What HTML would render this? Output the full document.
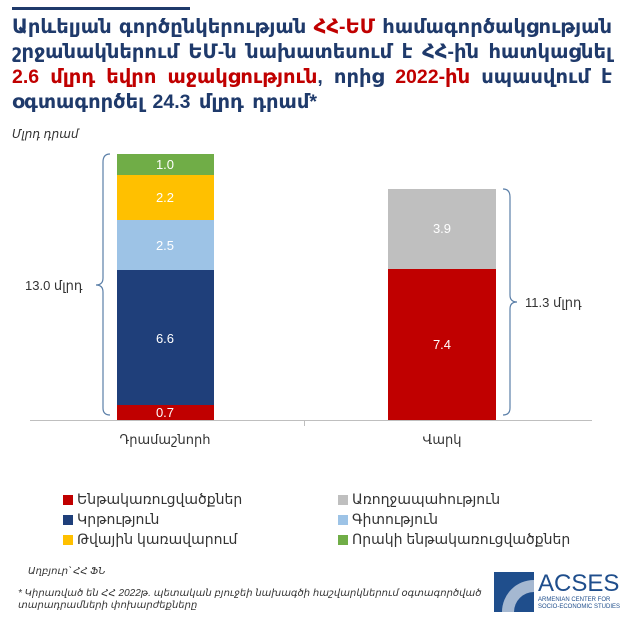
<!DOCTYPE html>
<html><head><meta charset="utf-8"><style>
body{margin:0;width:624px;height:624px;background:#fff;position:relative;overflow:hidden;font-family:"Liberation Sans","DejaVu Sans",sans-serif}
.t{position:absolute;left:12px;width:600px;font-size:19.5px;font-weight:bold;color:#1f3a6b;text-align:justify;text-align-last:justify;white-space:nowrap;line-height:24px}
.r{color:#c00000}
.a{position:absolute;font-size:13px;color:#333}
.lg{position:absolute;font-size:14px;color:#333;line-height:16px}
.sq{display:inline-block;width:10px;height:10px;margin-right:4px;vertical-align:-1px}
</style></head><body>
<div style="position:absolute;left:12px;top:7px;width:178px;height:3px;background:#1f3a6b"></div>
<div class="t" style="top:15px">Արևելյան գործընկերության <span class="r">ՀՀ-ԵՄ</span> համագործակցության</div>
<div class="t" style="top:40px">շրջանակներում ԵՄ-ն նախատեսում է ՀՀ-ին հատկացնել</div>
<div class="t" style="top:65px"><span class="r">2.6 մլրդ եվրո աջակցություն</span>, որից <span class="r">2022-ին</span> սպասվում է</div>
<div class="t" style="top:90px;text-align-last:left;word-spacing:3px">օգտագործել 24.3 մլրդ դրամ*</div>
<div class="a" style="left:12px;top:127px;font-style:italic;font-size:12px">Մլրդ դրամ</div>
<svg width="624" height="624" style="position:absolute;left:0;top:0" font-family="Liberation Sans, DejaVu Sans, sans-serif" font-size="13">
<g text-anchor="middle">
<rect x="117" y="405" width="97" height="15" fill="#c00000"/><text x="165" y="417" fill="#fff">0.7</text>
<rect x="117" y="270" width="97" height="135" fill="#1f3f7a"/><text x="165" y="343" fill="#fff">6.6</text>
<rect x="117" y="220" width="97" height="50" fill="#9dc3e6"/><text x="165" y="250" fill="#fff">2.5</text>
<rect x="117" y="175" width="97" height="45" fill="#ffc000"/><text x="165" y="202" fill="#fff">2.2</text>
<rect x="117" y="154" width="97" height="21" fill="#70ad47"/><text x="165" y="169" fill="#fff">1.0</text>
<rect x="388" y="269" width="108" height="151" fill="#c00000"/><text x="442" y="349" fill="#fff">7.4</text>
<rect x="388" y="189" width="108" height="80" fill="#bfbfbf"/><text x="442" y="233" fill="#fff">3.9</text>
</g>
<line x1="30" y1="420.5" x2="592" y2="420.5" stroke="#bfbfbf"/>
<line x1="304.5" y1="420" x2="304.5" y2="426" stroke="#bfbfbf"/>
<path d="M110 154 Q103 154 103 162 L103 278 Q103 285 96 285 Q103 285 103 292 L103 408 Q103 415 110 415" fill="none" stroke="#5b7fa8" stroke-width="1.2"/>
<path d="M503 189 Q510 189 510 197 L510 295 Q510 302 517 302 Q510 302 510 309 L510 408 Q510 415 503 415" fill="none" stroke="#5b7fa8" stroke-width="1.2"/>
<text x="25" y="290" fill="#333">13.0 մլրդ</text>
<text x="525" y="307" fill="#333">11.3 մլրդ</text>
<text x="165" y="444" fill="#333" text-anchor="middle">Դրամաշնորհ</text>
<text x="442" y="444" fill="#333" text-anchor="middle">Վարկ</text>
</svg>
<div class="lg" style="left:63px;top:491px"><span class="sq" style="background:#c00000"></span>Ենթակառուցվածքներ</div>
<div class="lg" style="left:63px;top:511px"><span class="sq" style="background:#1f3f7a"></span>Կրթություն</div>
<div class="lg" style="left:63px;top:531px"><span class="sq" style="background:#ffc000"></span>Թվային կառավարում</div>
<div class="lg" style="left:338px;top:491px"><span class="sq" style="background:#bfbfbf"></span>Առողջապահություն</div>
<div class="lg" style="left:338px;top:511px"><span class="sq" style="background:#9dc3e6"></span>Գիտություն</div>
<div class="lg" style="left:338px;top:531px"><span class="sq" style="background:#70ad47"></span>Որակի ենթակառուցվածքներ</div>
<div class="a" style="left:28px;top:566px;font-style:italic;font-size:10px">Աղբյուր՝ ՀՀ ՖՆ</div>
<div class="a" style="left:18px;top:588px;font-style:italic;font-size:10px;line-height:12px;width:470px">* Կիրառված են ՀՀ 2022թ. պետական բյուջեի նախագծի հաշվարկներում օգտագործված<br>տարադրամների փոխարժեքները</div>
<svg width="40" height="40" style="position:absolute;left:494px;top:572px"><rect width="40" height="40" fill="#1f4e8c"/><path d="M40 40 L40 8 A32 32 0 0 0 8 40Z" fill="#fff" opacity=".6"/><path d="M40 40 L40 20 A20 20 0 0 0 20 40Z" fill="#1f4e8c"/></svg>
<div style="position:absolute;left:538px;top:570px;font-size:24px;color:#1f4e8c">ACSES</div>
<div style="position:absolute;left:538px;top:597px;font-size:6px;color:#1f4e8c;line-height:7px">ARMENIAN CENTER FOR<br>SOCIO-ECONOMIC STUDIES</div>
</body></html>
